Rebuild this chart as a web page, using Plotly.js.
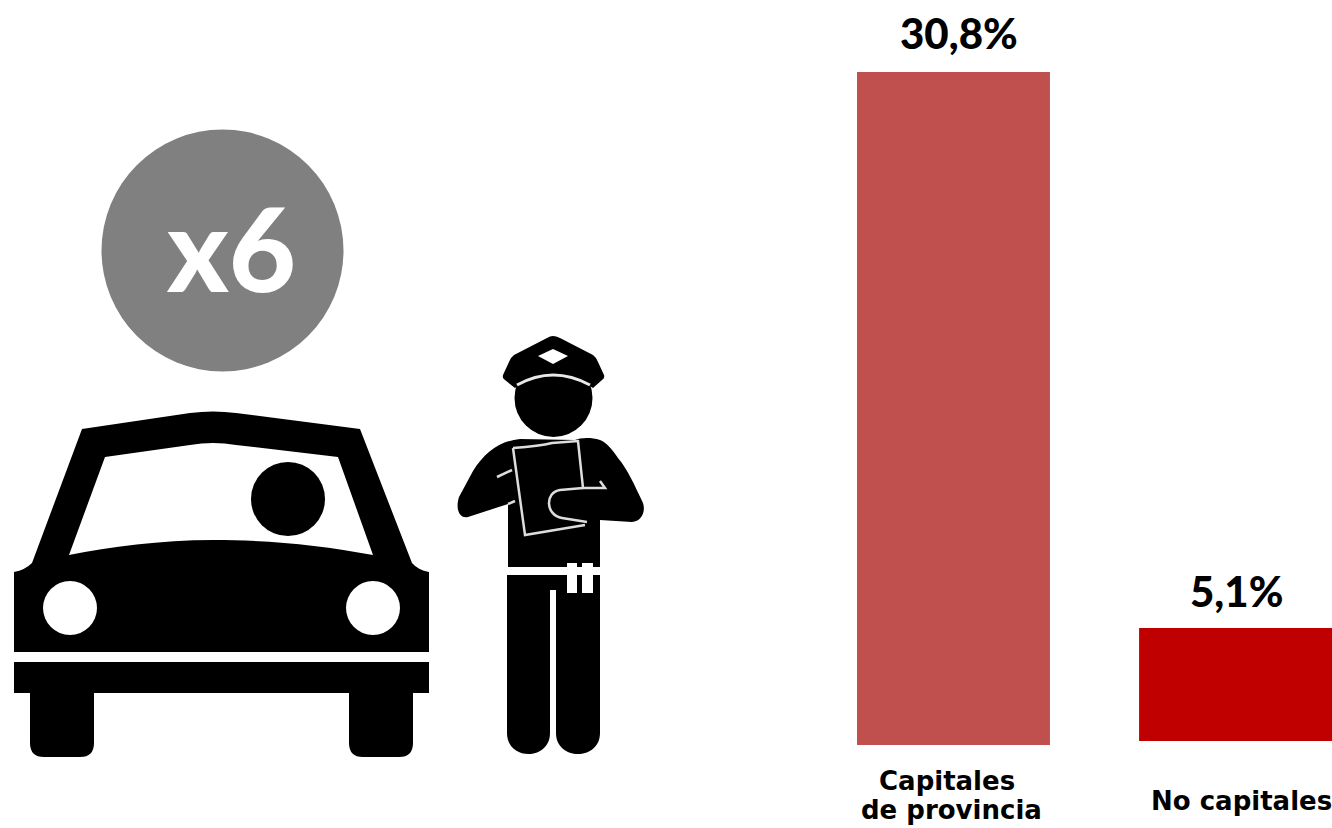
<!DOCTYPE html>
<html>
<head>
<meta charset="utf-8">
<script src="https://cdn.plot.ly/plotly-3.0.1.min.js"></script>
<style>html,body{margin:0;padding:0;background:#fff}#chart{width:1332px;height:828px}</style>
</head>
<body>
<div id="chart"></div>
<script>
const categories = ["Capitales de provincia", "No capitales"];
const firstCategoryLines = ["Capitales", "de provincia"];
const secondCategoryLine = "No capitales";
const values = [30.8, 5.1];
const valueLabels = ["30,8%", "5,1%"];
const barColors = ["#C0504D", "#C00000"];
const badgeText = "x6";

const W = 1332, H = 828;
const ink = "#000000";

function fill(path, color) {
  return {type: "path", xref: "x2", yref: "y3", path: path, fillcolor: color, line: {width: 0}, layer: "above"};
}
function stroke(path, color, width) {
  return {type: "path", xref: "x2", yref: "y3", path: path, fillcolor: "rgba(0,0,0,0)",
          line: {color: color, width: width}, layer: "above"};
}
function disc(cx, cy, r, color) {
  return {type: "circle", xref: "x2", yref: "y3", x0: cx - r, x1: cx + r, y0: cy - r, y1: cy + r,
          fillcolor: color, line: {width: 0}, layer: "above"};
}

const illustration = [
  disc(222.5, 250.5, 121, "#808080"),
  // car
  fill("M82,429 L190,413 Q213,410 236,413 L360,429 L412,563 Q418,570 429,572 L429,652 L14,652 L14,572 Q25,570 32,563 Z", ink),
  fill("M105,457 L190,445 Q213,441 236,445 L338,457 L373,555 C320,545 270,540 213,540 C160,540 110,547 69,555 Z", "#ffffff"),
  disc(288, 499, 37, ink),
  disc(70, 608, 27, "#ffffff"),
  disc(373, 608, 27, "#ffffff"),
  fill("M14,662 L429,662 L429,693 L14,693 Z", ink),
  fill("M30,690 L94,690 L94,743 Q94,757 80,757 L44,757 Q30,757 30,743 Z", ink),
  fill("M349,690 L413,690 L413,743 Q413,757 399,757 L363,757 Q349,757 349,743 Z", ink),
  // officer
  fill("M520,439 C500,441 485,452 473,471 L459,497 C455,510 460,519 468,517 L508,504 L508,567 L600,567 L600,520 L632,522 C641,522 646,512 643,503 C634,484 628,470 618,458 C612,449 606,442 600,440 C590,437 580,438 575,440 L520,439 Z", ink),
  fill("M507,575 L600,575 L600,733 C600,761 556,761 556,733 L556,590 L550,590 L550,733 C550,761 507,761 507,733 Z", ink),
  disc(553.5, 398, 39, ink),
  fill("M553,336 Q556,336 560,338 L593,355 Q597,358 598,362 L604,375 Q605,378 602,380 L593,388 C575,375 530,375 515,388 L505,380 Q502,378 503,375 L509,362 Q510,358 514,355 L547,338 Q550,336 553,336 Z", ink),
  stroke("M517,385 Q553,365 590,385", "#e8e8e8", 3),
  fill("M538,356 L553,349 L568,356 L553,364 Z", "#ffffff"),
  stroke("M513,448 Q540,446 552,443 L578,441 L583,488 L605,488 L600,481", "#dddddd", 2.5),
  stroke("M583,488 L560,490 C545,492 545,515 562,518 L587,522", "#dddddd", 2.5),
  stroke("M513,448 L525,535 L585,525", "#dddddd", 2.5),
  stroke("M497,477 L512,470", "#dddddd", 2.5),
  stroke("M508,504 L515,501", "#dddddd", 2.5),
  fill("M567,563 L577,563 L577,593 L567,593 Z", "#ffffff"),
  fill("M582,563 L593,563 L593,593 L582,593 Z", "#ffffff"),
  fill("M505,567 L602,567 L602,575 L505,575 Z", "#ffffff")
];

const data = [
  {type: "bar", x: [categories[0]], y: [values[0]], width: 0.684, marker: {color: barColors[0]},
   xaxis: "x", yaxis: "y", hoverinfo: "none", showlegend: false},
  {type: "bar", x: [categories[1]], y: [values[1]], width: 0.684, marker: {color: barColors[1]},
   xaxis: "x", yaxis: "y2", hoverinfo: "none", showlegend: false},
  {type: "scatter", x: [], y: [], xaxis: "x2", yaxis: "y3", hoverinfo: "none", showlegend: false}
];

const valueFont = {family: "Lato, sans-serif", size: 42, color: "#000000", weight: 900};
const catFont = {family: "'DejaVu Sans', sans-serif", size: 26, color: "#000000", weight: 700};

const annotations = [
  {xref: "x", yref: "y", x: categories[0], y: values[0], yanchor: "bottom", xanchor: "center", text: valueLabels[0],
   showarrow: false, font: valueFont, xshift: 5.5, yshift: 13, borderpad: 0},
  {xref: "x", yref: "y2", x: categories[1], y: values[1], yanchor: "bottom", xanchor: "center", text: valueLabels[1],
   showarrow: false, font: valueFont, xshift: 0.5, yshift: 11, borderpad: 0},
  {xref: "x", yref: "y", x: categories[0], y: 0, yanchor: "top", xanchor: "center", text: firstCategoryLines[0],
   showarrow: false, font: catFont, xshift: -6, yshift: -20, borderpad: 0},
  {xref: "x", yref: "y", x: categories[0], y: 0, yanchor: "top", xanchor: "center", text: firstCategoryLines[1],
   showarrow: false, font: catFont, xshift: -2, yshift: -49, borderpad: 0},
  {xref: "x", yref: "y2", x: categories[1], y: 0, yanchor: "top", xanchor: "center", text: secondCategoryLine,
   showarrow: false, font: catFont, xshift: 6, yshift: -44, borderpad: 0},
  {xref: "x2", yref: "y3", x: 230.5, y: 247, text: badgeText, showarrow: false, xanchor: "center", yanchor: "middle",
   font: {family: "Lato, sans-serif", size: 116, color: "#ffffff", weight: 900}, borderpad: 0}
];

const layout = {
  width: W, height: H,
  margin: {l: 0, r: 0, t: 0, b: 0},
  paper_bgcolor: "#ffffff", plot_bgcolor: "rgba(0,0,0,0)",
  showlegend: false,
  barmode: "overlay",
  xaxis: {type: "category", categoryorder: "array", categoryarray: categories,
          domain: [0.6, 1], range: [-0.547, 1.342], visible: false, fixedrange: true, anchor: "y"},
  yaxis: {domain: [83 / H, 756 / H], range: [0, values[0]], visible: false, fixedrange: true, anchor: "x"},
  yaxis2: {domain: [87 / H, 200 / H], range: [0, values[1]], visible: false, fixedrange: true, anchor: "x"},
  xaxis2: {domain: [0, 1], range: [0, W], visible: false, fixedrange: true, anchor: "y3"},
  yaxis3: {domain: [0, 1], range: [H, 0], visible: false, fixedrange: true, anchor: "x2"},
  shapes: illustration,
  annotations: annotations
};

Plotly.newPlot("chart", data, layout, {displayModeBar: false, staticPlot: true});
</script>
</body>
</html>
